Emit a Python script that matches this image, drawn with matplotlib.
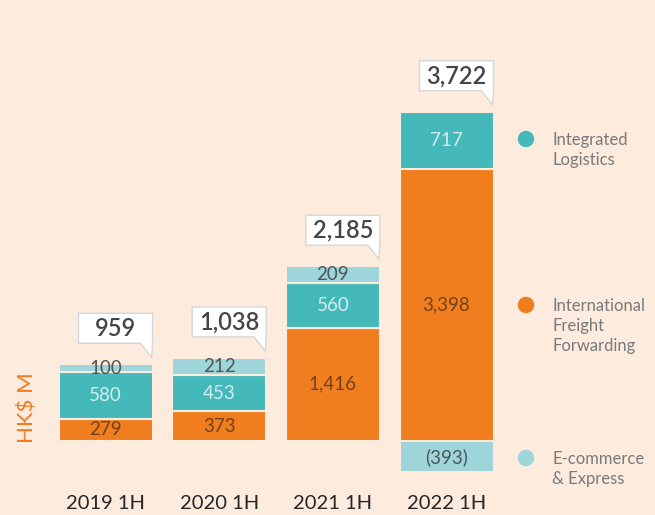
import matplotlib
matplotlib.use("Agg")
import matplotlib.pyplot as plt
from matplotlib.patches import Polygon
from matplotlib.transforms import IdentityTransform

plt.rcParams['font.family'] = ['Lato', 'DejaVu Sans']

# data
periods = ['2019 1H', '2020 1H', '2021 1H', '2022 1H']
freight = [279, 373, 1416, 3398]      # International Freight Forwarding
logistics = [580, 453, 560, 717]      # Integrated Logistics
ecommerce = [100, 212, 209, -393]     # E-commerce & Express
totals = [959, 1038, 2185, 3722]

BG = '#FDEBDD'
ORANGE = '#F07D1E'
TEAL = '#45B8BA'
LIGHT = '#9ED5DA'


def fmt(v):
    s = f"{abs(v):,}"
    return f"({s})" if v < 0 else s


fig = plt.figure(figsize=(6.55, 5.15), dpi=100)
fig.patch.set_facecolor(BG)
ax = fig.add_axes([48.7 / 655, 26 / 515, 454.7 / 655, 424 / 515])
ax.set_facecolor(BG)
ax.set_xlim(-0.5, 3.5)
ax.set_ylim(-600, 4700)

x = list(range(len(periods)))
w = 0.827
edge = dict(edgecolor=BG, linewidth=1.5)

ax.bar(x, freight, w, color=ORANGE, **edge)
ax.bar(x, logistics, w, bottom=freight, color=TEAL, **edge)
eb = [f + l if e > 0 else 0 for f, l, e in zip(freight, logistics, ecommerce)]
ax.bar(x, ecommerce, w, bottom=eb, color=LIGHT, **edge)

# segment labels
for i in x:
    ax.text(i, freight[i] / 2, fmt(freight[i]), ha='center', va='center',
            fontsize=13.5, color='#74421a')
    ax.text(i, freight[i] + logistics[i] / 2, fmt(logistics[i]), ha='center',
            va='center', fontsize=13.5, color='#d2eeee')
    ax.text(i, eb[i] + ecommerce[i] / 2, fmt(ecommerce[i]), ha='center',
            va='center', fontsize=13.5, color='#4e5658')

ax.set_xticks(x)
ax.set_xticklabels(periods, fontsize=14.5, color='#262626')
ax.tick_params(axis='x', length=0, pad=4)
ax.set_yticks([])
for s in ax.spines.values():
    s.set_visible(False)

# callout boxes with a tail at the bottom right
for i in x:
    top = freight[i] + logistics[i] + max(ecommerce[i], 0)
    R, Y = ax.transData.transform((i + w / 2, top))
    tip = Y + 7
    B = tip + 14
    T = B + 30
    L = R - 74
    verts = [(L, T), (R, T), (R, B), (R - 1, tip), (R - 12, B), (L, B)]
    fig.add_artist(Polygon(verts, closed=True, facecolor='white',
                           edgecolor='#d6d6d6', linewidth=1.0,
                           transform=IdentityTransform(), joinstyle='round'))
    fig.text((L + R) / 2, (B + T) / 2, fmt(totals[i]), transform=IdentityTransform(),
             ha='center', va='center', fontsize=17, fontweight='semibold', color='#454545')

# legend
legend = [(TEAL, 'Integrated\nLogistics', 139),
          (ORANGE, 'International\nFreight\nForwarding', 305),
          (LIGHT, 'E-commerce\n& Express', 458)]
for col, label, yy in legend:
    fig.add_artist(plt.Circle((526, 515 - yy), 7.5, color=col,
                              transform=IdentityTransform()))
    fig.text(552 / 655, (515 - yy + 7) / 515, label, ha='left', va='top',
             fontsize=12, color='#7a7a7a', linespacing=1.3)

fig.text(27 / 655, 1 - 408 / 515, 'HK$ M', rotation=90, ha='center', va='center',
         fontsize=16, color=ORANGE)

fig.savefig('out.png', dpi=100, facecolor=BG)
